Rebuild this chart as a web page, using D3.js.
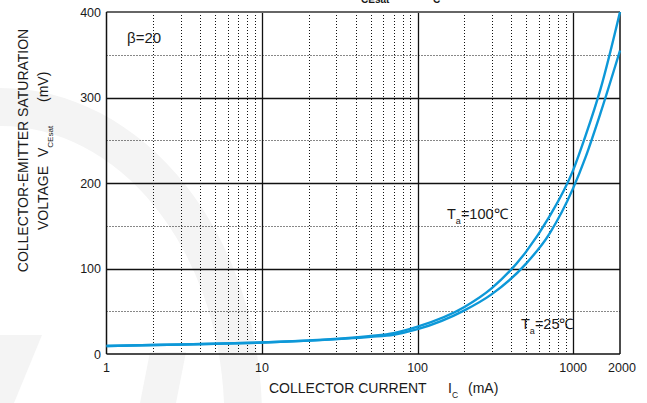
<!DOCTYPE html>
<meta charset="utf-8">
<style>

body {
  margin: 0;
  background: #fff;
}

text {
  font-family: "Liberation Sans", Arial, sans-serif;
  fill: #1a1a1a;
}

</style>
<body>
<script src="https://cdn.jsdelivr.net/npm/d3@7"></script>
<script>

// collector current (mA)
var current = [1, 2, 5, 10, 20, 50, 70, 100, 200, 300, 500, 700, 1000, 1200, 1500, 2000];

// Vce(sat) in mV
var vce100 = [9.4, 10.5, 12, 13.4, 15.8, 21, 24.5, 32, 55, 77, 120, 160, 215, 255, 310, 400];
var vce25  = [9.4, 10.5, 12, 13.4, 15.6, 20, 22.5, 29, 51, 70, 106, 140, 194, 230, 282, 355];

var xMajor = [1, 10, 100, 1000, 2000];
var xMinor = [2, 3, 4, 5, 6, 7, 8, 9, 20, 30, 40, 50, 60, 70, 80, 90, 200, 300, 400, 500, 600, 700, 800, 900];
var yMajor = [0, 100, 200, 300, 400];
var yMinor = [50, 150, 250, 350];

var w = 647,
    h = 403;

var x = d3.scaleLog().domain([1, 2000]).range([106.5, 620]);
var y = d3.scaleLinear().domain([0, 400]).range([354, 12]);

function px(v) { return Math.round(x(v)) + 0.5; }
function py(v) { return Math.round(y(v)) + 0.5; }

var svg = d3.select("body").append("svg")
    .attr("width", w)
    .attr("height", h);

// faint watermark behind the chart
var wm = svg.append("g").attr("fill", "#f4f4f4");
wm.append("path")
    .attr("d", "M0,88 A262,330 0 0 1 262,418 L262,403 L224,403 A224,292 0 0 0 0,126 Z");
wm.append("path")
    .attr("d", "M0,335 L42,335 L14,403 L0,403 Z");
wm.append("path")
    .attr("d", "M150,352 L186,352 L176,403 L140,403 Z");

var grid = svg.append("g");

grid.selectAll(".vminor")
    .data(xMinor)
  .enter().append("line")
    .attr("x1", px)
    .attr("x2", px)
    .attr("y1", y(400))
    .attr("y2", y(0))
    .attr("stroke", "#111")
    .attr("stroke-width", 1)
    .attr("stroke-dasharray", "1,2");

grid.selectAll(".hminor")
    .data(yMinor)
  .enter().append("line")
    .attr("x1", x(1))
    .attr("x2", x(2000))
    .attr("y1", py)
    .attr("y2", py)
    .attr("stroke", "#111")
    .attr("stroke-width", 1)
    .attr("stroke-dasharray", "1,2");

grid.selectAll(".vmajor")
    .data([10, 100, 1000])
  .enter().append("line")
    .attr("x1", px)
    .attr("x2", px)
    .attr("y1", y(400))
    .attr("y2", y(0))
    .attr("stroke", "#111")
    .attr("stroke-width", 1.3);

grid.selectAll(".hmajor")
    .data([100, 200, 300])
  .enter().append("line")
    .attr("x1", x(1))
    .attr("x2", x(2000))
    .attr("y1", py)
    .attr("y2", py)
    .attr("stroke", "#111")
    .attr("stroke-width", 1.3);

// frame
grid.append("line").attr("x1", x(1)).attr("x2", x(2000)).attr("y1", y(400)).attr("y2", y(400))
    .attr("stroke", "#666").attr("stroke-width", 2);
grid.append("line").attr("x1", x(1)).attr("x2", x(2000)).attr("y1", y(0)).attr("y2", y(0))
    .attr("stroke", "#111").attr("stroke-width", 1.5);
grid.append("line").attr("x1", x(1)).attr("x2", x(1)).attr("y1", y(400)).attr("y2", y(0))
    .attr("stroke", "#111").attr("stroke-width", 1.5);
grid.append("line").attr("x1", x(2000)).attr("x2", x(2000)).attr("y1", y(400)).attr("y2", y(0))
    .attr("stroke", "#111").attr("stroke-width", 1.5);

// tick labels
svg.append("g").selectAll("text")
    .data(yMajor)
  .enter().append("text")
    .attr("x", 101)
    .attr("y", function(d) { return y(d) + 4.5; })
    .attr("text-anchor", "end")
    .attr("font-size", 12.5)
    .text(function(d) { return d; });

svg.append("g").selectAll("text")
    .data(xMajor)
  .enter().append("text")
    .attr("x", function(d) { return x(d) + (d == 2000 ? 2 : 0); })
    .attr("y", 372)
    .attr("text-anchor", "middle")
    .attr("font-size", 12.5)
    .text(function(d) { return d; });

// curves
var line = d3.line()
    .x(function(d) { return x(d[0]); })
    .y(function(d) { return y(d[1]); })
    .curve(d3.curveMonotoneX);

[vce100, vce25].forEach(function(s) {
  svg.append("path")
      .datum(d3.zip(current, s))
      .attr("d", line)
      .attr("fill", "none")
      .attr("stroke", "#0d98d8")
      .attr("stroke-width", 2.4);
});

// annotations
svg.append("text")
    .attr("x", 127)
    .attr("y", 43)
    .attr("font-size", 15)
    .text("\u03b2=20");

function tempLabel(tx, ty, val) {
  var t = svg.append("text").attr("x", tx).attr("y", ty).attr("font-size", 14.5);
  t.append("tspan").text("T");
  t.append("tspan").attr("font-size", 9).attr("dy", 5).text("a");
  t.append("tspan").attr("dy", -5).text("=" + val + "\u2103");
}
tempLabel(447, 219, 100);
tempLabel(521, 329, 25);

// x title
var xt = svg.append("text").attr("x", 269).attr("y", 393).attr("font-size", 14);
xt.append("tspan").text("COLLECTOR CURRENT");
xt.append("tspan").attr("x", 448).text("I");
xt.append("tspan").attr("font-size", 8.5).attr("dy", 5).text("C");
xt.append("tspan").attr("x", 468).attr("dy", -5).text("(mA)");

// y title
var yt = svg.append("g").attr("transform", "rotate(-90)");
yt.append("text")
    .attr("x", -150.5)
    .attr("y", 28)
    .attr("text-anchor", "middle")
    .attr("font-size", 14)
    .text("COLLECTOR-EMITTER SATURATION");
var yt2 = yt.append("text")
    .attr("x", -230)
    .attr("y", 48)
    .attr("font-size", 14);
yt2.append("tspan").text("VOLTAGE");
yt2.append("tspan").attr("x", -157).text("V");
yt2.append("tspan").attr("font-size", 8).attr("dy", 5).text("CEsat");
yt2.append("tspan").attr("x", -102).attr("dy", -5).text("(mV)");

// chart title, mostly cut off at the top edge as in the source
var tt = svg.append("text").attr("y", -2).attr("font-size", 14).attr("font-weight", "bold");
tt.append("tspan").attr("x", 350).text("V");
tt.append("tspan").attr("x", 361).attr("font-size", 10).attr("dy", 5).text("CEsat");
tt.append("tspan").attr("x", 400).attr("dy", -5).text("\u2014 I");
tt.append("tspan").attr("x", 433).attr("font-size", 10).attr("dy", 5).text("C");

</script>
